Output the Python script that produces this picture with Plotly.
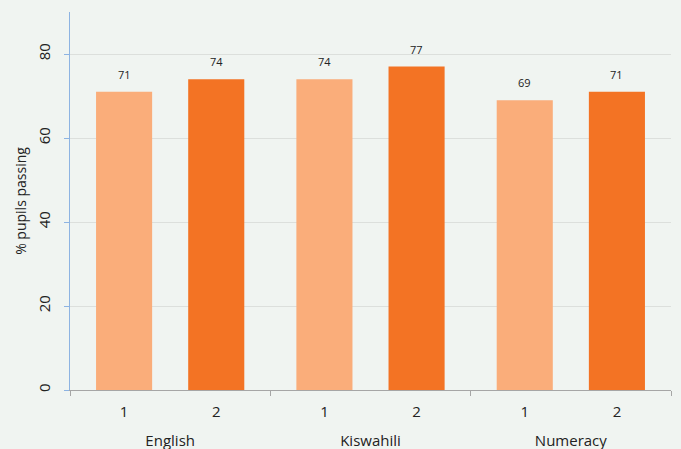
import plotly.graph_objects as go

subjects = ["English", "Kiswahili", "Numeracy"]
rounds = ["1", "2"]
round1 = [71, 74, 69]
round2 = [74, 77, 71]
colors = {"1": "#FAAD7A", "2": "#F37324"}

offset = 0.23      # half-distance between the two bars of a group (category units)
bar_w = 0.28

series = {"1": round1, "2": round2}
fig = go.Figure()
tick_pos, tick_txt = [], []
for k, r in enumerate(rounds):
    sign = -1 if k == 0 else 1
    xs = [g + sign * offset for g in range(len(subjects))]
    fig.add_trace(go.Bar(
        x=xs, y=series[r], width=bar_w, name=r,
        marker=dict(color=colors[r], line=dict(width=0)),
        cliponaxis=False,
    ))
    tick_pos += xs
    tick_txt += [r] * len(xs)
    for x, v in zip(xs, series[r]):
        fig.add_annotation(x=x, y=v, text=str(v), showarrow=False,
                           yanchor="bottom", yshift=8,
                           font=dict(size=11, color="#222222"))

# invisible anchor trace for the group-label axis
fig.add_trace(go.Scatter(x=[0], y=[0], xaxis="x2", mode="markers",
                         marker=dict(opacity=0), hoverinfo="skip",
                         showlegend=False))

xr = [-0.5, len(subjects) - 0.5]
fig.update_layout(
    width=681, height=449,
    margin=dict(l=70, r=10, t=12, b=59),
    paper_bgcolor="#F0F4F1", plot_bgcolor="#F0F4F1",
    font=dict(family="Open Sans, sans-serif", color="#222222"),
    showlegend=False, barmode="overlay",
    xaxis=dict(
        automargin=False, range=xr,
        tickvals=tick_pos, ticktext=tick_txt, tickfont=dict(size=15),
        showline=True, linecolor="#A6A6A6", linewidth=1,
        showgrid=False, zeroline=False, ticks="", ticklabelstandoff=8,
        minor=dict(tickvals=[g - 0.5 for g in range(len(subjects) + 1)],
                   ticks="outside", ticklen=5, tickcolor="#A6A6A6",
                   showgrid=False),
    ),
    xaxis2=dict(
        automargin=False, range=xr, overlaying="x", side="bottom",
        anchor="y", matches="x",
        tickvals=list(range(len(subjects))), ticktext=subjects,
        tickfont=dict(size=15), ticks="", showline=False,
        showgrid=False, zeroline=False, ticklabelstandoff=40,
    ),
    yaxis=dict(
        automargin=False,
        range=[0, 90], tickvals=[0, 20, 40, 60, 80],
        showline=True, linecolor="#8DB3E2", linewidth=1,
        ticks="outside", ticklen=5, tickcolor="#8DB3E2",
        gridcolor="#DCDFDC", gridwidth=1, zeroline=False,
        tickangle=-90, tickfont=dict(size=15), ticklabelstandoff=8,
        title=dict(text="% pupils passing", font=dict(size=14), standoff=4),
    ),
)
fig.write_html("out.html", config={"displayModeBar": False},
               post_script="document.body.style.margin='0';")
